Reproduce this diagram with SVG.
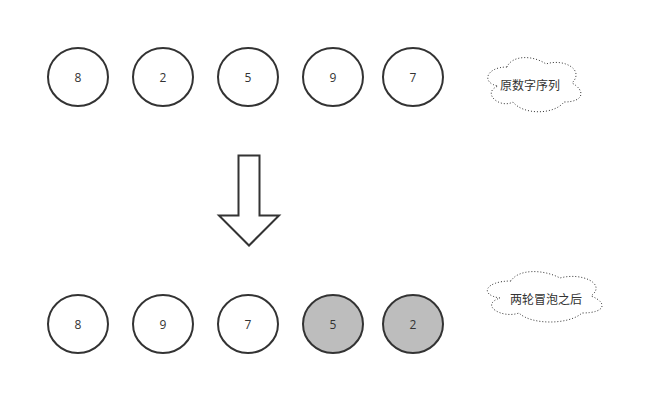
<svg xmlns="http://www.w3.org/2000/svg" width="667" height="415" viewBox="0 0 667 415">
<style>
.n{fill:#fff;stroke:#333;stroke-width:2}
.g{fill:#bdbdbd;stroke:#333;stroke-width:2}
.t{font-family:"Open Sans","Liberation Sans",sans-serif;font-size:12px;fill:#333;text-anchor:middle;dominant-baseline:central}
.c{fill:#fff;stroke:#333;stroke-width:1;stroke-dasharray:1 2}
.ct{font-family:"Noto Sans CJK SC","Liberation Sans",sans-serif;font-size:12px;fill:#333;text-anchor:middle;dominant-baseline:central}
</style>
<rect width="667" height="415" fill="#fff"/>
<g id="n8a"><ellipse class="n" cx="78" cy="77" rx="30" ry="29"/><text class="t" x="78" y="77">8</text></g>
<g id="n2a"><ellipse class="n" cx="163" cy="77" rx="30" ry="29"/><text class="t" x="163" y="77">2</text></g>
<g id="n5a"><ellipse class="n" cx="248" cy="77" rx="30" ry="29"/><text class="t" x="248" y="77">5</text></g>
<g id="n9a"><ellipse class="n" cx="333" cy="77" rx="30" ry="29"/><text class="t" x="333" y="77">9</text></g>
<g id="n7a"><ellipse class="n" cx="413" cy="77" rx="30" ry="29"/><text class="t" x="413" y="77">7</text></g>
<g id="cloud1"><path class="c" d="M507,67 C486,67 481,83 498,86 C481,93 500,109 513,102 C523,115 554,115 564,102 C585,102 585,90 572,83 C585,70 564,58 546,64 C533,55 512,55 507,67 Z"/><text class="ct" x="530" y="84">原数字序列</text></g>
<g id="arrow"><path d="M238.5,155.5 L259.5,155.5 L259.5,215.5 L279,215.5 L249,245.5 L219,215.5 L238.5,215.5 Z" fill="#fff" stroke="#333" stroke-width="2" stroke-linejoin="miter"/></g>
<g id="n8b"><ellipse class="n" cx="78" cy="324" rx="30" ry="29"/><text class="t" x="78" y="324">8</text></g>
<g id="n9b"><ellipse class="n" cx="163" cy="324" rx="30" ry="29"/><text class="t" x="163" y="324">9</text></g>
<g id="n7b"><ellipse class="n" cx="248" cy="324" rx="30" ry="29"/><text class="t" x="248" y="324">7</text></g>
<g id="n5b"><ellipse class="g" cx="333" cy="324" rx="30" ry="29"/><text class="t" x="333" y="324">5</text></g>
<g id="n2b"><ellipse class="g" cx="413" cy="324" rx="30" ry="29"/><text class="t" x="413" y="324">2</text></g>
<g id="cloud2"><path class="c" d="M511,281 C485,281 479,295 500,298 C479,305 502,319 519,313 C531,325 569,325 582,313 C607,313 607,302 591,296 C607,284 582,272 560,278 C543,269 518,269 511,281 Z"/><text class="ct" x="546" y="298">两轮冒泡之后</text></g>
<g id="connectors"></g>
</svg>
